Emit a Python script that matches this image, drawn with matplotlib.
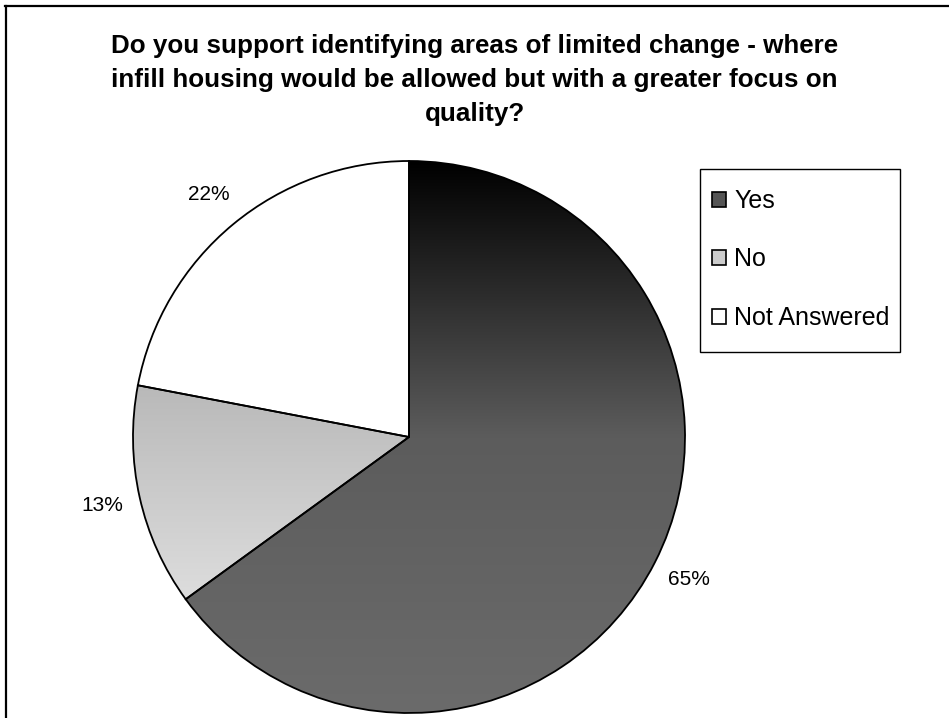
import numpy as np
import matplotlib.pyplot as plt
from matplotlib.colors import LinearSegmentedColormap
from matplotlib.patches import Patch, Rectangle
from matplotlib.lines import Line2D

plt.rcParams['font.family'] = ['Liberation Sans', 'DejaVu Sans']

title = ("Do you support identifying areas of limited change - where\n"
         "infill housing would be allowed but with a greater focus on\n"
         "quality?")
categories = ['Yes', 'No', 'Not Answered']
shares = [65, 13, 22]

# vertical gradient per slice: (top colour, middle colour, bottom colour)
slice_fills = [
    ('#000000', '#5c5c5c', '#6b6b6b'),
    ('#b9b9b9', '#cbcbcb', '#dddddd'),
    ('#ffffff', '#ffffff', '#ffffff'),
]
legend_fills = ['#555555', '#cccccc', '#ffffff']

W, H = 949, 718
fig = plt.figure(figsize=(W / 100, H / 100), dpi=100)

def fx(px):
    return px / W

def fy(py):
    return 1 - py / H

# pie sits in a square axes, centre (409, 437) px, radius 276 px
cx, cy, r = 409, 437, 276
ax = fig.add_axes([fx(cx - r), fy(cy + r), 2 * r / W, 2 * r / H])

wedges, texts, autotexts = ax.pie(
    shares, startangle=90, counterclock=False, radius=1.0,
    autopct='%1.0f%%', pctdistance=1.14,
    wedgeprops=dict(facecolor='none', edgecolor='black', linewidth=1.3),
    textprops=dict(fontsize=15, color='black'))

for w, cols in zip(wedges, slice_fills):
    bb = w.get_path().get_extents(w.get_patch_transform())
    cmap = LinearSegmentedColormap.from_list('g', list(cols))
    grad = np.linspace(0, 1, 256).reshape(-1, 1)
    im = ax.imshow(grad, cmap=cmap, aspect='auto', origin='upper',
                   extent=[bb.x0, bb.x1, bb.y0, bb.y1], zorder=0.5,
                   interpolation='bilinear')
    im.set_clip_path(w)
    w.set_zorder(1)
    w.set_clip_on(False)

ax.set_xlim(-1, 1)
ax.set_ylim(-1, 1)
ax.set_aspect('equal')
ax.axis('off')

fig.text(0.5, fy(80), title, ha='center', va='center',
         fontsize=18.7, fontweight='bold', linespacing=1.5)

# legend: box drawn separately so its padding can be uneven
fig.add_artist(Rectangle((fx(700), fy(352)), fx(900) - fx(700), fy(169) - fy(352),
                         transform=fig.transFigure, facecolor='white',
                         edgecolor='black', linewidth=1.0, zorder=2))
handles = [Patch(facecolor=c, edgecolor='black', linewidth=1.2) for c in legend_fills]
leg = fig.legend(handles, categories, loc='upper left',
                 bbox_to_anchor=(fx(712), fy(189)),
                 fontsize=18, frameon=False,
                 handlelength=0.56, handleheight=0.56, handletextpad=0.32,
                 labelspacing=1.38, borderpad=0, borderaxespad=0)
leg.set_zorder(3)

# outer chart frame (top and left edges visible)
fig.add_artist(Line2D([fx(5), 1], [fy(6), fy(6)], color='black', lw=1.6,
                      transform=fig.transFigure))
fig.add_artist(Line2D([fx(6), fx(6)], [0, fy(6)], color='black', lw=1.6,
                      transform=fig.transFigure))

fig.savefig('out.png', dpi=100)
